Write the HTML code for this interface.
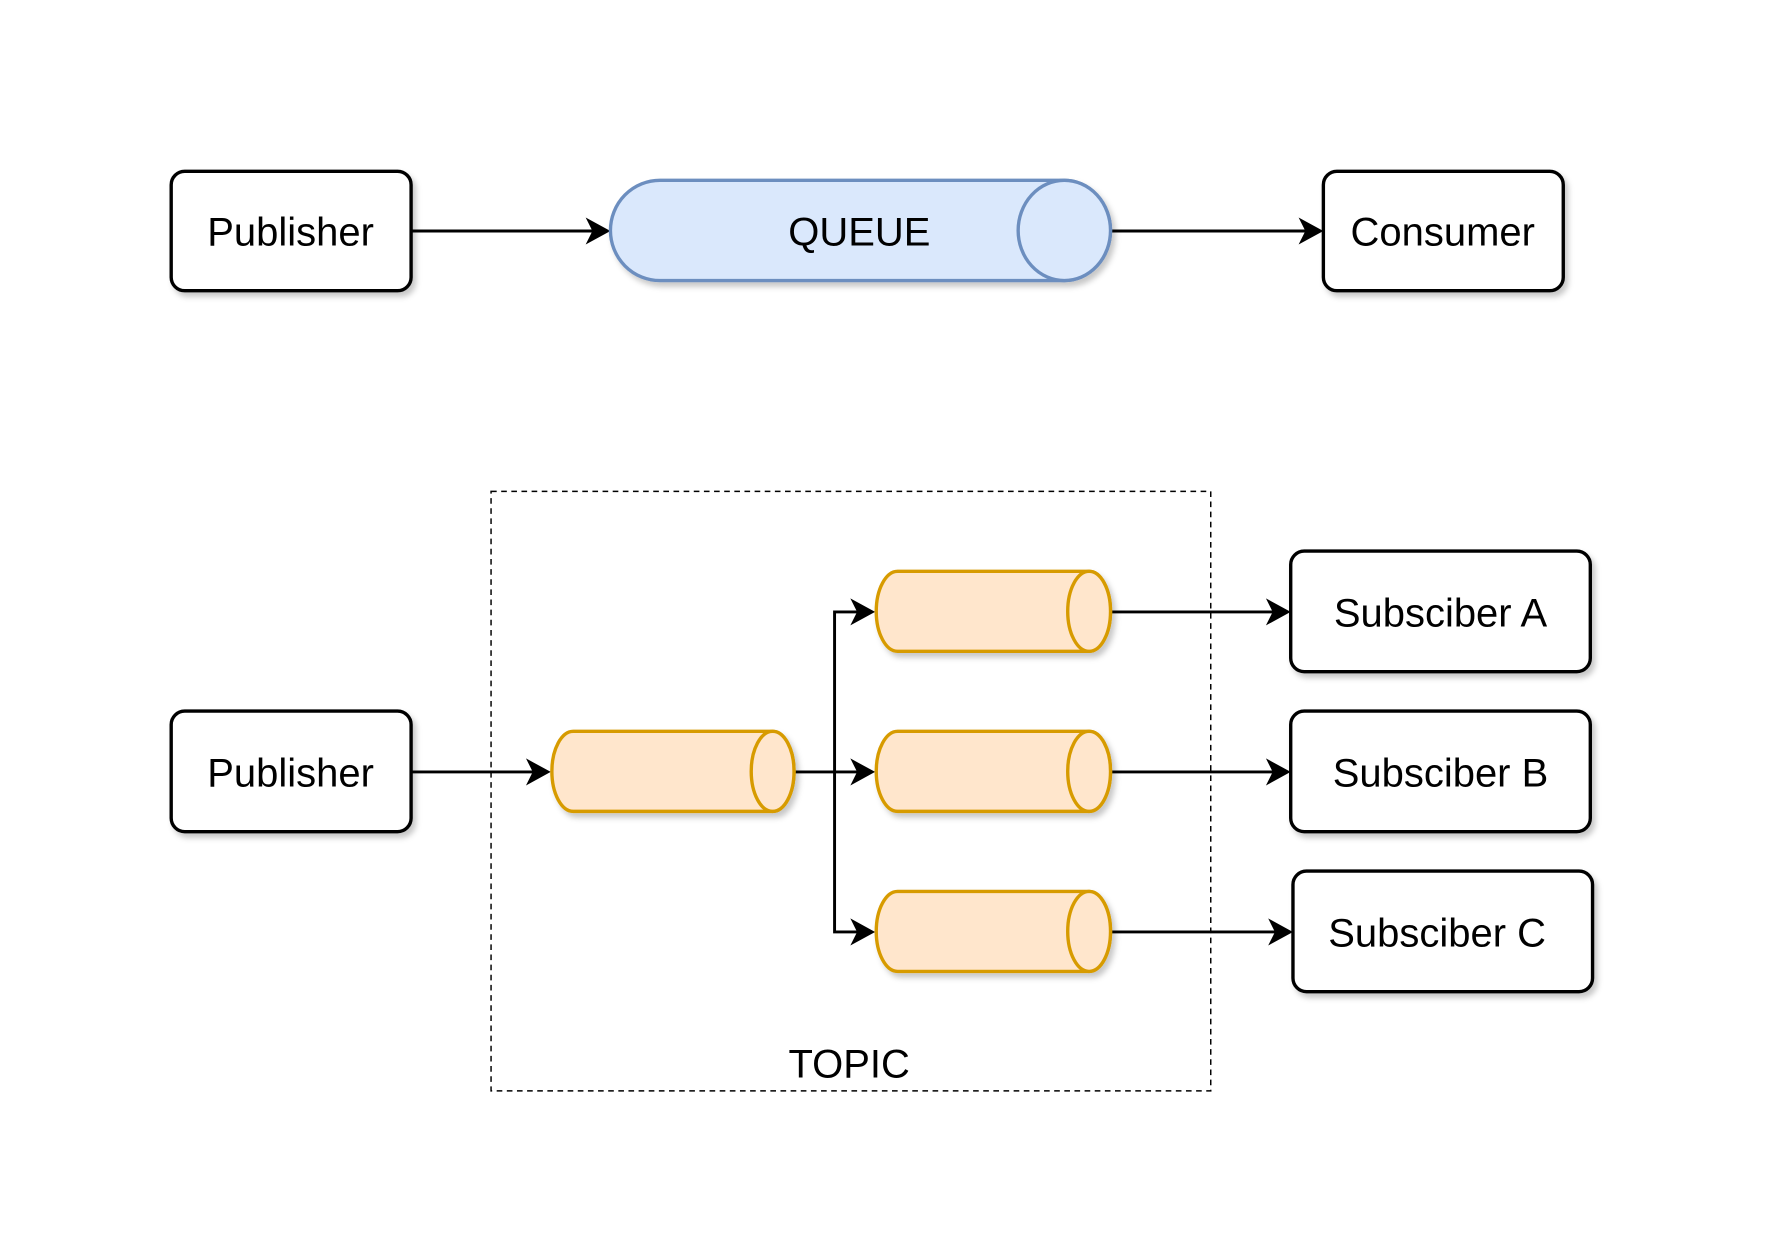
<!DOCTYPE html>
<html><head><style>html,body{margin:0;padding:0;background:#fff}svg{display:block}</style></head>
<body>
<svg width="1766" height="1252" viewBox="0 0 1568 1111" preserveAspectRatio="none" xmlns="http://www.w3.org/2000/svg" font-family="'Liberation Sans', sans-serif">
<defs>
<filter id="sh" x="-10%" y="-10%" width="130%" height="140%"><feDropShadow dx="3" dy="4" stdDeviation="2.5" flood-color="#000" flood-opacity="0.22"/></filter>
</defs>
<rect x="0" y="0" width="1568" height="1111" fill="#fff"/>
<g stroke="#000" stroke-width="2.6" fill="none">
<line x1="365" y1="205" x2="530" y2="205"/>
<line x1="987" y1="205" x2="1163" y2="205"/>
<line x1="365" y1="685" x2="477" y2="685"/>
<line x1="706" y1="685" x2="765" y2="685"/>
<polyline points="765,543 741,543 741,827 765,827"/>
<line x1="987" y1="543" x2="1134" y2="543"/>
<line x1="987" y1="685" x2="1134" y2="685"/>
<line x1="987" y1="827" x2="1136" y2="827"/>
</g>
<g fill="#000">
<path d="M542,205 L520,193 L526,205 L520,217 Z"/>
<path d="M1175,205 L1153,193 L1159,205 L1153,217 Z"/>
<path d="M489,685 L467,673 L473,685 L467,697 Z"/>
<path d="M777,685 L755,673 L761,685 L755,697 Z"/>
<path d="M777,543 L755,531 L761,543 L755,555 Z"/>
<path d="M777,827 L755,815 L761,827 L755,839 Z"/>
<path d="M1146,543 L1124,531 L1130,543 L1124,555 Z"/>
<path d="M1146,685 L1124,673 L1130,685 L1124,697 Z"/>
<path d="M1148,827 L1126,815 L1132,827 L1126,839 Z"/>
</g>
<rect x="436" y="436" width="639" height="532" fill="none" stroke="#000" stroke-width="1.3" stroke-dasharray="5,4"/>
<g fill="#fff" stroke="#000" stroke-width="3" filter="url(#sh)">
<rect x="152" y="152" width="213" height="106" rx="12"/>
<rect x="1175" y="152" width="213" height="106" rx="12"/>
<rect x="152" y="631" width="213" height="107" rx="12"/>
<rect x="1146" y="489" width="266" height="107" rx="12"/>
<rect x="1146" y="631" width="266" height="107" rx="12"/>
<rect x="1148" y="773" width="266" height="107" rx="12"/>
</g>
<g filter="url(#sh)" stroke="#6c8ebf" stroke-width="3" fill="#dae8fc">
<path d="M586,160 L945,160 A41,44.5 0 0 1 945,249 L586,249 A44,44.5 0 0 1 586,160 Z"/>
<ellipse cx="945" cy="204.5" rx="41" ry="44.5"/>
</g>
<g stroke="#d79b00" stroke-width="3" fill="#ffe6cc" filter="url(#sh)">
<path d="M509,649 L686,649 A19,35.5 0 0 1 686,720 L509,720 A19,35.5 0 0 1 509,649 Z"/>
<ellipse cx="686" cy="684.5" rx="19" ry="35.5"/>
<path d="M797,507 L967,507 A19,35.5 0 0 1 967,578 L797,578 A19,35.5 0 0 1 797,507 Z"/>
<ellipse cx="967" cy="542.5" rx="19" ry="35.5"/>
<path d="M797,649 L967,649 A19,35.5 0 0 1 967,720 L797,720 A19,35.5 0 0 1 797,649 Z"/>
<ellipse cx="967" cy="684.5" rx="19" ry="35.5"/>
<path d="M797,791 L967,791 A19,35.5 0 0 1 967,862 L797,862 A19,35.5 0 0 1 797,791 Z"/>
<ellipse cx="967" cy="826.5" rx="19" ry="35.5"/>
</g>
<g font-size="35.5" fill="#000" text-anchor="middle">
<text x="258" y="218">Publisher</text>
<text x="763" y="218">QUEUE</text>
<text x="1281" y="218">Consumer</text>
<text x="258" y="698">Publisher</text>
<text x="1279" y="556">Subsciber A</text>
<text x="1279" y="698">Subsciber B</text>
<text x="1276" y="840">Subsciber C</text>
<text x="754" y="956">TOPIC</text>
</g>
</svg>
</body></html>
